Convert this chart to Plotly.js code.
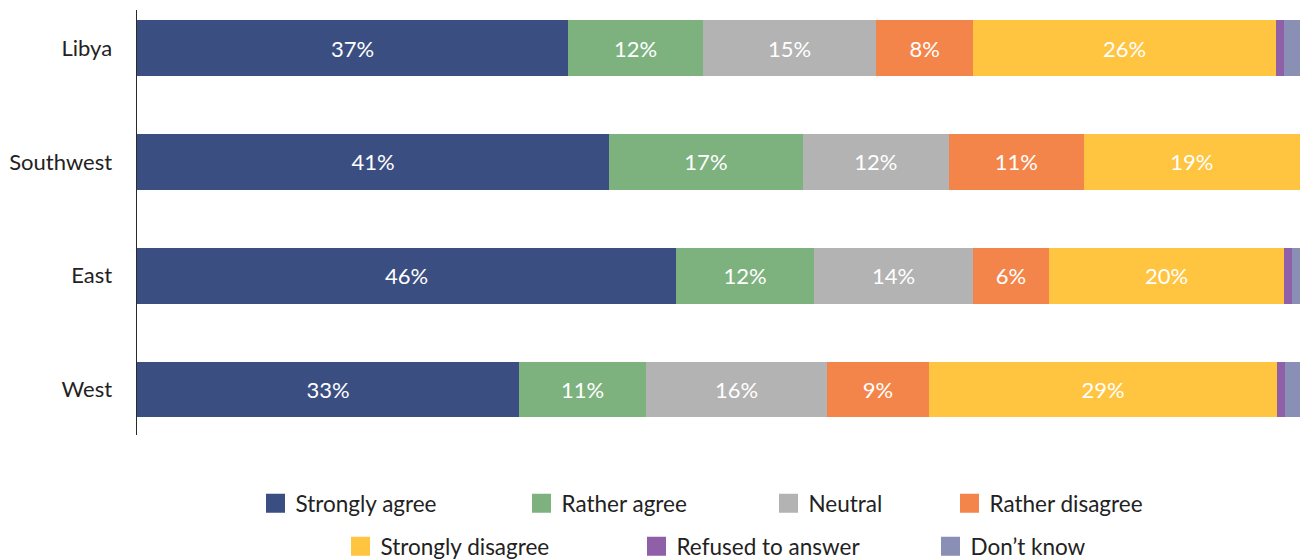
<!DOCTYPE html>
<html>
<head>
<meta charset="utf-8">
<script src="https://cdn.plot.ly/plotly-3.0.1.min.js"></script>
<style>html,body{margin:0;padding:0;background:#fff;}#chart{width:1300px;height:560px;}</style>
</head>
<body>
<div id="chart"></div>
<script>
// Categories (top to bottom)
const regions = ["Libya", "Southwest", "East", "West"];

// Series values (% of respondents) per region, in the order of `regions`
const stronglyAgree    = [37.06, 40.58, 46.35, 32.85];
const ratherAgree      = [11.61, 16.68, 11.87, 10.92];
const neutral          = [14.88, 12.55, 13.67, 15.56];
const ratherDisagree   = [8.34, 11.61, 6.53, 8.77];
const stronglyDisagree = [26.05, 18.57, 20.21, 29.92];
const refused          = [0.69, 0, 0.69, 0.69];
const dontKnow         = [1.38, 0, 0.69, 1.29];

// Printed labels inside the bars
const labelsStronglyAgree    = ["37%", "41%", "46%", "33%"];
const labelsRatherAgree      = ["12%", "17%", "12%", "11%"];
const labelsNeutral          = ["15%", "12%", "14%", "16%"];
const labelsRatherDisagree   = ["8%", "11%", "6%", "9%"];
const labelsStronglyDisagree = ["26%", "19%", "20%", "29%"];

const seriesNames = ["Strongly agree", "Rather agree", "Neutral", "Rather disagree",
                     "Strongly disagree", "Refused to answer", "Don\u2019t know"];
const seriesColors = ["#3b4e82", "#7db27f", "#b3b3b3", "#f4854a", "#ffc440", "#8f5fa8", "#8a8fb5"];
const seriesValues = [stronglyAgree, ratherAgree, neutral, ratherDisagree, stronglyDisagree, refused, dontKnow];
const seriesLabels = [labelsStronglyAgree, labelsRatherAgree, labelsNeutral, labelsRatherDisagree,
                      labelsStronglyDisagree, null, null];

const FONT = "Lato, 'Open Sans', sans-serif";

const traces = [];
seriesValues.forEach((vals, i) => {
  traces.push({
    type: "bar",
    orientation: "h",
    name: seriesNames[i],
    y: regions,
    x: vals,
    marker: {color: seriesColors[i]},
    text: seriesLabels[i] || undefined,
    textposition: seriesLabels[i] ? "inside" : "none",
    insidetextanchor: "middle",
    textangle: 0,
    constraintext: "none",
    textfont: {family: FONT, size: 22, color: "#ffffff"},
    showlegend: false,
    hoverinfo: "name+x"
  });
});

// Legend entries (one legend per entry to reproduce the two centred rows)
const legendPos = [
  {x: 266, y: 503.5}, {x: 532, y: 503.5}, {x: 779, y: 503.5}, {x: 960, y: 503.5},
  {x: 351, y: 546.5}, {x: 647, y: 546.5}, {x: 941, y: 546.5}
];
const plotLeft = 137, plotWidth = 1163, plotTop = 10, plotHeight = 425;

const layout = {
  width: 1300, height: 560,
  margin: {l: plotLeft, r: 0, t: plotTop, b: 560 - plotTop - plotHeight, pad: 0, autoexpand: false},
  paper_bgcolor: "#ffffff", plot_bgcolor: "#ffffff",
  barmode: "stack",
  bargap: 0.51,
  font: {family: FONT, size: 22, color: "#222222"},
  xaxis: {range: [0, 100], visible: false, fixedrange: true},
  yaxis: {
    type: "category",
    categoryorder: "array",
    categoryarray: regions.slice().reverse(),
    range: [-0.40, 3.334],
    showline: true, linecolor: "#2a2a2a", linewidth: 1.5,
    showgrid: false, zeroline: false, ticks: "",
    ticklabelstandoff: 19,
    tickfont: {family: FONT, size: 22, color: "#222222"},
    fixedrange: true
  },
  showlegend: true
};

seriesNames.forEach((nm, i) => {
  const key = i === 0 ? "legend" : "legend" + (i + 1);
  const p = legendPos[i];
  const centre = p.x + 9.5;
  layout[key] = {
    orientation: "h",
    x: (centre - 20 - plotLeft) / plotWidth,
    xanchor: "left",
    y: -(p.y - (plotTop + plotHeight)) / plotHeight,
    yanchor: "middle",
    bgcolor: "rgba(0,0,0,0)",
    borderwidth: 0,
    font: {family: FONT, size: 22.5, color: "#222222"},
    itemclick: false, itemdoubleclick: false
  };
  traces.push({
    type: "scatter", mode: "markers",
    name: nm,
    x: [null], y: [null],
    marker: {symbol: "square", size: 16, color: seriesColors[i],
             line: {color: seriesColors[i], width: 3}},
    legend: key,
    showlegend: true,
    hoverinfo: "skip"
  });
});

Plotly.newPlot("chart", traces, layout, {displayModeBar: false, staticPlot: true});
</script>
</body>
</html>
